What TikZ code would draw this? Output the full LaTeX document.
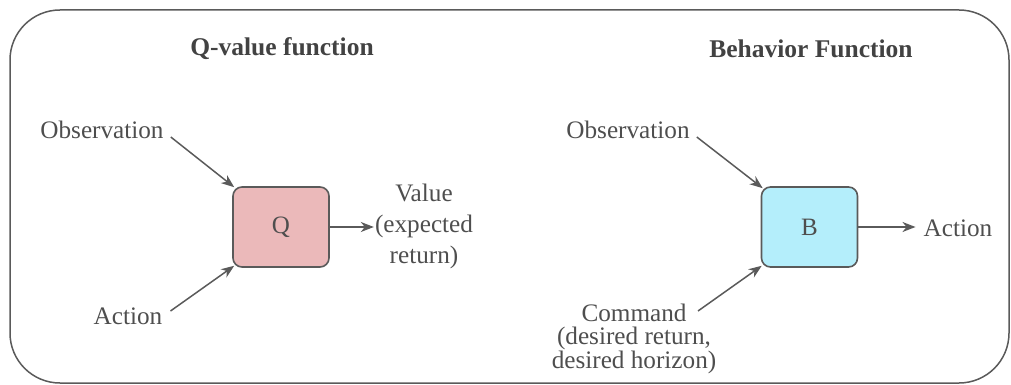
\documentclass[tikz,border=0pt]{standalone}
\usepackage{fontspec}
\setmainfont{Liberation Serif}
\usetikzlibrary{arrows.meta}
\definecolor{edgegray}{HTML}{5A5A5A}
\definecolor{txtgray}{HTML}{4E4E4E}
\definecolor{qpink}{HTML}{EBB9BA}
\definecolor{bcyan}{HTML}{B4EEFB}
\begin{document}
\begin{tikzpicture}[x=1pt,y=-1pt,
  lbl/.style={inner sep=0pt, text=txtgray, font=\fontsize{25.2}{31}\selectfont},
  ttl/.style={inner sep=0pt, text=txtgray!85!black, font=\fontsize{25.5}{30}\selectfont\bfseries},
  fbox/.style={draw=edgegray, line width=1.6pt, rounded corners=9pt, minimum width=96pt, minimum height=80pt, inner sep=0pt, text=txtgray, font=\fontsize{25}{30}\selectfont},
  conn/.style={draw=edgegray, line width=1.5pt, -{Stealth[length=13pt,width=10pt,inset=4pt]}}]
\useasboundingbox (0,0) rectangle (1011,385);
\draw[edgegray, line width=1.5pt, rounded corners=50pt] (10,10) rectangle (1009,383);
% Q-value function
\node[ttl] (tq) at (282,49) {Q-value function};
\node[fbox, fill=qpink] (q) at (281,227) {Q};
\node[lbl] (obsq) at (102,130) {Observation};
\node[lbl] (actq) at (128,316) {Action};
\node[lbl, align=center] (val) at (424,226) {Value\\(expected\\return)};
\draw[conn] ([shift={(7,7)}]obsq.east) -- ([shift={(2,1)}]q.north west);
\draw[conn] ([shift={(8,-5)}]actq.east) -- ([shift={(2,-2)}]q.south west);
\draw[conn] (q.east) -- ([xshift=-1pt]q.east -| val.west);
% Behavior function
\node[ttl] (tb) at (811,49) {Behavior Function};
\node[fbox, fill=bcyan] (b) at (809.5,227) {B};
\node[lbl] (obsb) at (628,130) {Observation};
\node[lbl, align=center, font=\fontsize{25.2}{22.5}\selectfont] (cmd) at (634,339) {Command\\(desired return,\\desired horizon)};
\coordinate (cmdstart) at (698,311);
\node[lbl] (actb) at (958,228) {Action};
\draw[conn] ([shift={(7,7)}]obsb.east) -- ([shift={(2,2)}]b.north west);
\draw[conn] (cmdstart) -- ([shift={(1,-2)}]b.south west);
\draw[conn] (b.east) -- ([xshift=-8pt]b.east -| actb.west);
\end{tikzpicture}
\end{document}
